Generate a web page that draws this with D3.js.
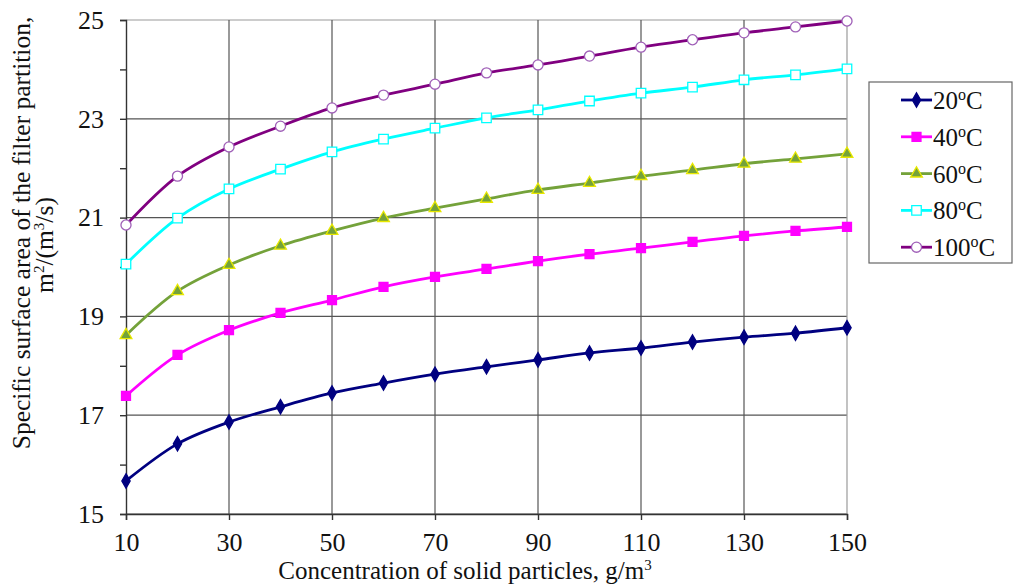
<!DOCTYPE html>
<html><head><meta charset="utf-8">
<script src="https://cdn.jsdelivr.net/npm/d3@7"></script>
<style>html,body{margin:0;padding:0;background:#fff}svg{display:block}</style>
</head><body>
<svg id="c" width="1014" height="587"></svg>
<script>
const concentration = [10,20,30,40,50,60,70,80,90,100,110,120,130,140,150];
const t20  = [15.67,16.42,16.86,17.17,17.45,17.65,17.83,17.98,18.12,18.26,18.36,18.48,18.58,18.66,18.77];
const t40  = [17.39,18.22,18.72,19.07,19.33,19.60,19.80,19.96,20.12,20.26,20.38,20.51,20.63,20.73,20.81];
const t60  = [18.62,19.51,20.04,20.43,20.73,20.99,21.19,21.38,21.56,21.70,21.84,21.96,22.09,22.19,22.29];
const t80  = [20.06,20.99,21.58,21.98,22.33,22.59,22.81,23.02,23.18,23.36,23.52,23.64,23.79,23.89,24.01];
const t100 = [20.85,21.84,22.43,22.85,23.22,23.48,23.70,23.93,24.09,24.27,24.45,24.60,24.74,24.86,24.98];
const seriesNames = ["20","40","60","80","100"];
const xTicks = [10,30,50,70,90,110,130,150];
const yTicks = [15,17,19,21,23,25];
const yMinor = [16,18,20,22,24];

const series = [
  {name:seriesNames[0], vals:t20,  line:"#000080", shape:"diamond", fill:"#000080", stroke:"#000080", size:60},
  {name:seriesNames[1], vals:t40,  line:"#FF00FF", shape:"square",  fill:"#FF00FF", stroke:"#FF00FF", size:80},
  {name:seriesNames[2], vals:t60,  line:"#74A23A", shape:"triangle",fill:"#74A23A", stroke:"#E8E800", size:60},
  {name:seriesNames[3], vals:t80,  line:"#00FFFF", shape:"square",  fill:"#FFFFFF", stroke:"#00FFFF", size:90},
  {name:seriesNames[4], vals:t100, line:"#800080", shape:"circle",  fill:"#FFFFFF", stroke:"#A060B8", size:80}
];
const sym = {diamond:d3.symbolDiamond, square:d3.symbolSquare, triangle:d3.symbolTriangle, circle:d3.symbolCircle};

const svg = d3.select("#c");
const font = "'Liberation Serif','Times New Roman',serif";
const x = d3.scaleLinear().domain([10,150]).range([126,847]);
const y = d3.scaleLinear().domain([15,25]).range([514,20]);

// gridlines
svg.append("g").selectAll("line").data(yTicks).join("line")
  .attr("x1",126).attr("x2",847).attr("y1",d=>y(d)).attr("y2",d=>y(d))
  .attr("stroke",d=>d===25?"#9a9a9a":"#555").attr("stroke-width",1.2);
svg.append("g").selectAll("line").data(xTicks.slice(1)).join("line")
  .attr("x1",d=>x(d)).attr("x2",d=>x(d)).attr("y1",20).attr("y2",514)
  .attr("stroke",d=>d===150?"#9a9a9a":"#555").attr("stroke-width",1.2);

// axes
const yAxis = d3.axisLeft(y).tickValues(yTicks).tickSize(6).tickPadding(16);
const gy = svg.append("g").attr("transform","translate(126,0)").call(yAxis);
gy.selectAll(".tick line").attr("stroke","#333").attr("stroke-width",1.4);
gy.selectAll("text").attr("font-family",font).attr("font-size",26).attr("fill","#111");
gy.select(".domain").attr("stroke","#333").attr("stroke-width",1.4);
const gym = svg.append("g").attr("transform","translate(126,0)")
  .call(d3.axisLeft(y).tickValues(yMinor).tickSize(6).tickFormat(""));
gym.select(".domain").remove();
gym.selectAll(".tick line").attr("stroke","#333").attr("stroke-width",1.4);

const xAxis = d3.axisBottom(x).tickValues(xTicks).tickSize(6).tickPadding(13);
const gx = svg.append("g").attr("transform","translate(0,514)").call(xAxis);
gx.selectAll(".tick line").attr("stroke","#333").attr("stroke-width",1.4);
gx.selectAll("text").attr("font-family",font).attr("font-size",26).attr("fill","#111");
gx.select(".domain").attr("stroke","#333").attr("stroke-width",1.4);

// lines
const lineGen = d3.line().x((d,i)=>x(concentration[i])).y(d=>y(d)).curve(d3.curveCatmullRom.alpha(0.5));
series.forEach(s=>{
  svg.append("path").attr("d",lineGen(s.vals)).attr("fill","none")
    .attr("stroke",s.line).attr("stroke-width",2.8);
});
series.forEach(s=>{
  const g = svg.append("g");
  g.selectAll("path").data(s.vals).join("path")
    .attr("transform",(d,i)=>`translate(${x(concentration[i])},${y(d)})`)
    .attr("d",d3.symbol().type(sym[s.shape]).size(s.size))
    .attr("fill",s.fill).attr("stroke",s.stroke).attr("stroke-width",1.3);
});

// legend
const lg = svg.append("g");
lg.append("rect").attr("x",869).attr("y",82).attr("width",143).attr("height",181)
  .attr("fill","#fff").attr("stroke","#666").attr("stroke-width",1.2);
series.forEach((s,i)=>{
  const yy = 100 + i*36.8;
  lg.append("line").attr("x1",901).attr("x2",932).attr("y1",yy).attr("y2",yy)
    .attr("stroke",s.line).attr("stroke-width",2.8);
  lg.append("path").attr("transform",`translate(916.5,${yy})`)
    .attr("d",d3.symbol().type(sym[s.shape]).size(s.size))
    .attr("fill",s.fill).attr("stroke",s.stroke).attr("stroke-width",1.3);
  const t = lg.append("text").attr("x",933).attr("y",yy+9).attr("font-family",font)
    .attr("font-size",25).attr("fill","#111");
  t.append("tspan").text(s.name);
  t.append("tspan").attr("dy",-9).attr("font-size",16).text("o");
  t.append("tspan").attr("dy",9).text("C");
});

// axis titles
const xt = svg.append("text").attr("x",465).attr("y",579).attr("text-anchor","middle")
  .attr("font-family",font).attr("font-size",25).attr("fill","#111");
xt.append("tspan").text("Concentration of solid particles, g/m");
xt.append("tspan").attr("dy",-9).attr("font-size",15).text("3");

svg.append("text").attr("transform","translate(30,233) rotate(-90)")
  .attr("text-anchor","middle").attr("font-family",font).attr("font-size",25.5).attr("fill","#111")
  .text("Specific surface area of the filter partition,");
const yt2 = svg.append("text").attr("transform","translate(53,245) rotate(-90)")
  .attr("text-anchor","middle").attr("font-family",font).attr("font-size",25.5).attr("fill","#111");
yt2.append("tspan").text("m");
yt2.append("tspan").attr("dy",-9).attr("font-size",15).text("2");
yt2.append("tspan").attr("dy",9).text("/(m");
yt2.append("tspan").attr("dy",-9).attr("font-size",15).text("3");
yt2.append("tspan").attr("dy",9).text("/s)");
</script>
</body></html>
